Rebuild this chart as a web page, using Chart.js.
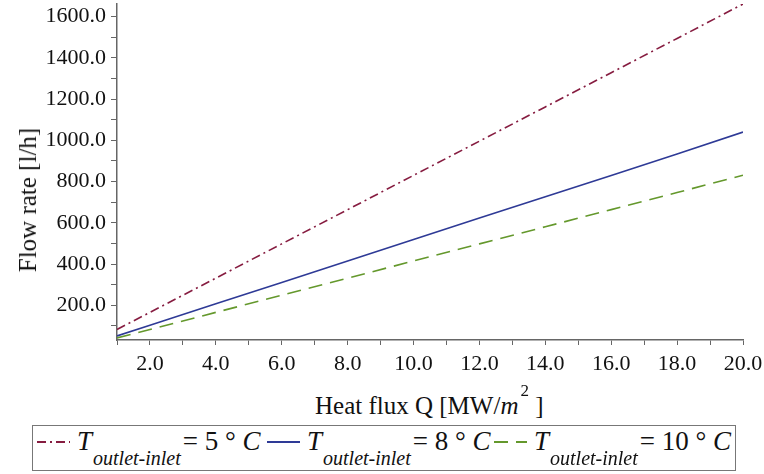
<!DOCTYPE html>
<html>
<head>
<meta charset="utf-8">
<script src="https://cdn.jsdelivr.net/npm/chart.js@4/dist/chart.umd.min.js"></script>
<style>
    body { margin: 0; background: #fff; font-family: "Liberation Serif", "Times New Roman", serif; color: #111; }
    #wrap { position: relative; width: 764px; height: 474px; }
    #box { position: absolute; left: 0; top: 0; width: 764px; height: 385px; }
    #yTitle { position: absolute; left: 28px; top: 200px; transform: translate(-50%, -50%) rotate(-90deg); font-size: 25px; white-space: nowrap; }
    #xTitle { position: absolute; left: 315px; top: 390px; font-size: 25px; white-space: nowrap; }
    #xTitle sup { font-size: 17px; position: relative; top: -9px; margin-left: 2px; }
    #legenda { position: absolute; left: 32px; top: 425px; width: 704px; height: 46px; border: 1.5px solid #777; box-sizing: border-box; }
    .voce { position: absolute; top: 0px; white-space: nowrap; font-size: 27px; }
    .voce svg { vertical-align: middle; margin-right: 7px; position: relative; top: -2px; }
    .voce i.t { font-style: italic; }
    .voce sub { font-size: 20px; font-style: italic; position: relative; top: 9px; margin-left: 1px; margin-right: 2px; }
</style>
</head>
<body>
<div id="wrap">
    <div id="box"><canvas id="myChart" width="764" height="385"></canvas></div>
    <div id="yTitle">Flow rate [l/h]</div>
    <div id="xTitle">Heat flux Q [MW/<i>m</i><sup>2</sup> ]</div>
    <div id="legenda"></div>
</div>
<script>
"use strict"

//dati
let heatFlux = [1, 2, 4, 6, 8, 10, 12, 14, 16, 18, 20];
let flow5 = [83, 166, 332, 498, 664, 830, 996, 1162, 1328, 1494, 1661];
let flow8 = [52, 104, 208, 311, 415, 519, 623, 727, 830, 934, 1040];
let flow10 = [42, 83, 166, 249, 332, 415, 498, 581, 664, 747, 831];
let legendLabels = ["= 5 ° ", "= 8 ° ", "= 10 ° "];

let colori = ["#861c40", "#2e3a96", "#64982c"];
let tratti = [[9, 4, 2, 4], [], [14, 8]];
let serie = [flow5, flow8, flow10];

function punti(valori) {
    return heatFlux.map(function (q, i) { return { x: q, y: valori[i] }; });
}

let datasets = serie.map(function (s, i) {
    return {
        label: legendLabels[i],
        data: punti(s),
        borderColor: colori[i],
        borderWidth: 1.6,
        borderDash: tratti[i],
        pointRadius: 0,
        tension: 0,
        fill: false
    };
});

const tickFont = { family: "Liberation Serif", size: 22 };

new Chart(document.getElementById("myChart"), {
    type: 'line',
    data: { datasets: datasets },
    options: {
        responsive: false,
        animation: false,
        layout: { padding: { left: 0, right: 21, top: 4, bottom: 0 } },
        plugins: { legend: { display: false }, tooltip: { enabled: false } },
        scales: {
            x: {
                type: 'linear',
                min: 1,
                max: 20,
                afterFit: function (scale) {
                    scale.height = 45;
                    scale.paddingLeft = 0;
                    scale.paddingRight = 0;
                },
                border: { color: "#666", width: 1.5 },
                grid: { drawOnChartArea: false, tickLength: 5, color: "#666" },
                ticks: {
                    stepSize: 1,
                    autoSkip: false,
                    maxRotation: 0,
                    padding: 6,
                    color: "#111",
                    font: tickFont,
                    callback: function (v) { return v % 2 === 0 ? v.toFixed(1) : ''; }
                }
            },
            y: {
                min: 32,
                max: 1661,
                afterFit: function (scale) {
                    scale.width = 117;
                    scale.paddingTop = 0;
                    scale.paddingBottom = 0;
                },
                border: { color: "#666", width: 1.5 },
                grid: { drawOnChartArea: false, tickLength: 6, color: "#666" },
                ticks: {
                    stepSize: 100,
                    includeBounds: false,
                    autoSkip: false,
                    padding: 5,
                    color: "#111",
                    font: tickFont,
                    callback: function (v) { return v % 200 === 0 ? v.toFixed(1) : ''; }
                }
            }
        }
    }
});

//legenda
let _legenda = document.getElementById("legenda");
let posizioni = [4, 234, 461];
datasets.forEach(function (d, i) {
    let voce = document.createElement("span");
    voce.className = "voce";
    voce.style.left = posizioni[i] + "px";
    let dash = d.borderDash.length ? ' stroke-dasharray="' + d.borderDash.join(",") + '"' : '';
    voce.innerHTML = '<svg width="33" height="10"><line x1="0" y1="5" x2="33" y2="5" stroke="' + d.borderColor +
        '" stroke-width="2"' + dash + '/></svg><i class="t">T</i><sub>outlet-inlet</sub>' + d.label + '<i>C</i>';
    _legenda.appendChild(voce);
});
</script>
</body>
</html>
